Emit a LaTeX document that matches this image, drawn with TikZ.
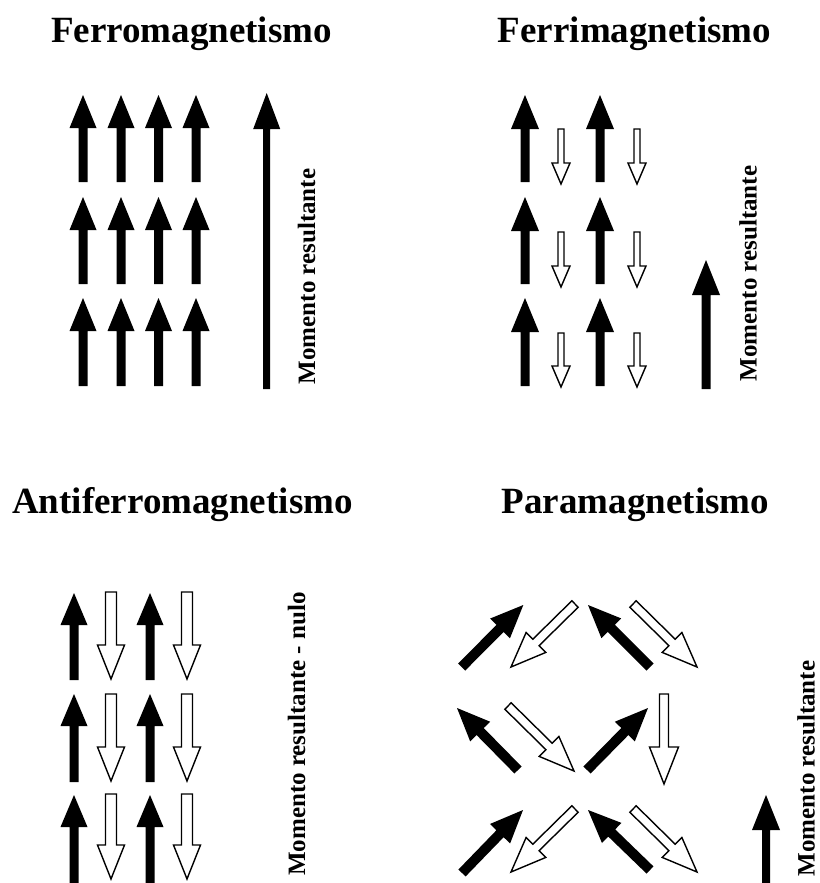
\documentclass[tikz,border=0pt]{standalone}
\usepackage{fontspec}
\setmainfont{Liberation Serif}
\usetikzlibrary{calc}
\tikzset{
  solidarr/.style={fill=black, draw=none},
  hollowarr/.style={fill=white, draw=black, line width=1.4pt, line join=miter},
  title/.style={font=\fontsize{37}{40}\selectfont\bfseries, anchor=base, inner sep=0pt},
  sidetext/.style={font=\fontsize{25}{28}\selectfont\bfseries, anchor=base, rotate=90, inner sep=0pt}
}
% #1 style, #2 tail, #3 tip, #4 half shaft width, #5 half head width, #6 head length
\newcommand{\magarrow}[6]{%
  \coordinate (mT) at #2;
  \coordinate (mP) at #3;
  \coordinate (mH) at ($(mP)!#6!(mT)$);
  \path[#1] ($(mT)!#4!90:(mP)$) -- ($(mH)!#4!90:(mP)$) -- ($(mH)!#5!90:(mP)$) -- (mP)
     -- ($(mH)!#5!-90:(mP)$) -- ($(mH)!#4!-90:(mP)$) -- ($(mT)!#4!-90:(mP)$) -- cycle;
}
\begin{document}
\begin{tikzpicture}[x=1pt,y=-1pt]
\useasboundingbox (0,0) rectangle (819,883);

% titles
\node[title] (t1) at (191.5,43) {Ferromagnetismo};
\node[title] (t2) at (634.5,43) {Ferrimagnetismo};
\node[title] (t3) at (182.5,513) {Antiferromagnetismo};
\node[title] (t4) at (635.4,513) {Paramagnetismo};

% side texts
\node[sidetext] (s1) at (315,276.5) {Momento resultante};
\node[sidetext] (s2) at (756.7,273.5) {Momento resultante};
\node[sidetext] (s3) at (305,734) {Momento resultante - nulo};
\node[sidetext] (s4) at (814.5,768.5) {Momento resultante};

% Ferromagnetismo
\foreach \x in {83,121,158.5,196}{
  \foreach \ya/\yb in {95/182,197/284,298/386}{
    \magarrow{solidarr}{(\x,\yb)}{(\x,\ya)}{4.5pt}{13.5pt}{33pt}
  }
}
\magarrow{solidarr}{(266.7,389)}{(266.7,93)}{3.5pt}{13.5pt}{36pt}

% Ferrimagnetismo
\foreach \x in {525,600}{
  \foreach \ya/\yb in {95/182,197/284,298/386}{
    \magarrow{solidarr}{(\x,\yb)}{(\x,\ya)}{4.5pt}{14pt}{34pt}
  }
}
\foreach \x in {561,637}{
  \foreach \ya/\yb in {129/184,232/287,333/387}{
    \magarrow{hollowarr}{(\x,\ya)}{(\x,\yb)}{3pt}{9pt}{21pt}
  }
}
\magarrow{solidarr}{(706,389)}{(706,260)}{4.5pt}{14pt}{35pt}

% Antiferromagnetismo
\foreach \x in {74,150}{
  \foreach \ya/\yb in {593/680,694/782,795/885}{
    \magarrow{solidarr}{(\x,\yb)}{(\x,\ya)}{4.5pt}{13.5pt}{32pt}
  }
}
\foreach \x in {111,187}{
  \foreach \ya/\yb in {592/679,694/781,794/879}{
    \magarrow{hollowarr}{(\x,\ya)}{(\x,\yb)}{5.5pt}{13.5pt}{34pt}
  }
}

% Paramagnetismo
\magarrow{solidarr}{(461.7,667)}{(523.3,605)}{5pt}{14pt}{33pt}
\magarrow{hollowarr}{(575,604)}{(511,667)}{4.5pt}{14pt}{35pt}
\magarrow{solidarr}{(650,667)}{(588,605)}{5pt}{14pt}{33pt}
\magarrow{hollowarr}{(633,604)}{(697,667)}{4.5pt}{14pt}{35pt}

\magarrow{solidarr}{(518,770)}{(457,708)}{5pt}{14pt}{33pt}
\magarrow{hollowarr}{(508,706)}{(574,771)}{4.5pt}{14pt}{35pt}
\magarrow{solidarr}{(587,770)}{(648,708)}{5pt}{14pt}{33pt}
\magarrow{hollowarr}{(664,694)}{(664,784)}{4.5pt}{14.5pt}{37pt}

\magarrow{solidarr}{(462,873)}{(523,810)}{5pt}{14pt}{33pt}
\magarrow{hollowarr}{(575,809)}{(511,872)}{4.5pt}{14pt}{35pt}
\magarrow{solidarr}{(650,870)}{(588,810)}{5pt}{14pt}{33pt}
\magarrow{hollowarr}{(633,809)}{(697,872)}{4.5pt}{14pt}{35pt}

\magarrow{solidarr}{(766,885)}{(766,795)}{4pt}{14pt}{35pt}
\end{tikzpicture}
\end{document}
